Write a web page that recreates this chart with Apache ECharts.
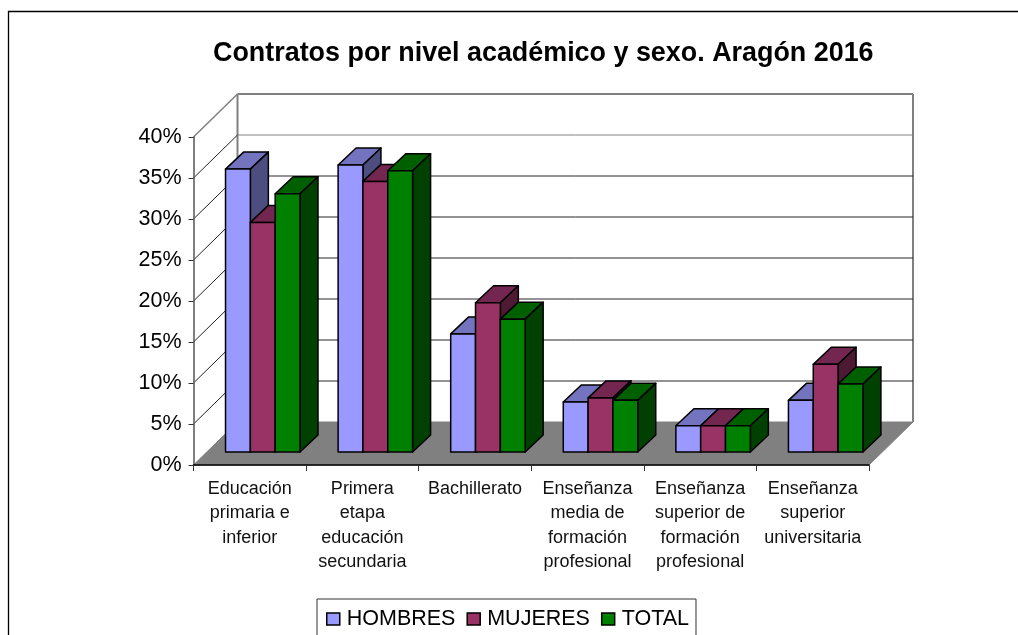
<!DOCTYPE html>
<html><head><meta charset="utf-8">
<style>html,body{margin:0;padding:0;background:#fff}#c{width:1018px;height:635px}</style>
<script src="https://cdn.jsdelivr.net/npm/echarts@6/dist/echarts.min.js"></script>
</head><body><div id="c"></div>
<script>
const categories = ["Educación\nprimaria e\ninferior","Primera\netapa\neducación\nsecundaria","Bachillerato","Enseñanza\nmedia de\nformación\nprofesional","Enseñanza\nsuperior de\nformación\nprofesional","Enseñanza\nsuperior\nuniversitaria"];
const hombres = [34.5,35.0,14.4,6.1,3.2,6.3];
const mujeres = [28.0,33.0,18.2,6.6,3.2,10.7];
const total = [31.5,34.3,16.2,6.3,3.2,8.3];
const yTicks = [0,5,10,15,20,25,30,35,40];
const seriesNames = ["HOMBRES","MUJERES","TOTAL"];
const faceColors = [["#9999FF","#7373BF","#4D4D80"],["#993366","#732650","#4D1933"],["#008000","#006000","#004000"]];
const FONT = '"Liberation Sans", Arial, sans-serif';
const WALL = {dx:44, dy:-43}, FRONT = {dx:13, dy:-13}, BAR = {dx:18, dy:-17};
const GAP = 0.169, BARW = 0.2205;

function wallItem(params, api){
  const cs = params.coordSys, v = api.value(0), y = api.coord([0,v])[1];
  const x0 = cs.x, x1 = cs.x + cs.width;
  const kids = [];
  const grey = '#808080';
  const lineCol = (v>=35) ? grey : '#262626';
  if (v === 0) {
    kids.push({type:'polygon',shape:{points:[[x0,y],[x0+WALL.dx,y+WALL.dy],[x1+WALL.dx,y+WALL.dy],[x1,y]]},style:{fill:grey,stroke:grey,lineWidth:1}});
    const yt = api.coord([0,yTicks[yTicks.length-1]])[1]+WALL.dy;
    [x0+WALL.dx,x1+WALL.dx].forEach(x=>kids.push({type:'line',shape:{x1:x,y1:y+WALL.dy,x2:x,y2:yt},style:{stroke:grey,lineWidth:2}}));
  } else {
    const top = v === yTicks[yTicks.length-1];
    kids.push({type:'line',shape:{x1:x0,y1:y,x2:x0+WALL.dx,y2:y+WALL.dy},style:{stroke:top?grey:'#222',lineWidth:top?1.5:1}});
    kids.push({type:'line',shape:{x1:x0+WALL.dx,y1:y+WALL.dy,x2:x1+WALL.dx,y2:y+WALL.dy},style:{stroke:lineCol,lineWidth:top?2:1}});
  }
  return {type:'group',children:kids};
}
function barItem(si){
  return function(params, api){
    const c = api.value(0), val = api.value(1);
    const band = api.size([1,0])[0];
    const xc = api.coord([c,0])[0];
    const yb = api.coord([c,0])[1] + FRONT.dy;
    const yt = api.coord([c,val])[1] + FRONT.dy;
    const xl = xc - band/2 + FRONT.dx + band*GAP + si*band*BARW;
    const xr = xl + band*BARW;
    const col = faceColors[si];
    const st = f => ({fill:f,stroke:'#000',lineWidth:1.5,lineJoin:'round'});
    return {type:'group',children:[
      {type:'polygon',shape:{points:[[xl,yt],[xr,yt],[xr+BAR.dx,yt+BAR.dy],[xl+BAR.dx,yt+BAR.dy]]},style:st(col[1])},
      {type:'polygon',shape:{points:[[xr,yt],[xr+BAR.dx,yt+BAR.dy],[xr+BAR.dx,yb+BAR.dy],[xr,yb]]},style:st(col[2])},
      {type:'rect',shape:{x:xl,y:yt,width:xr-xl,height:yb-yt},style:st(col[0])}
    ]};
  };
}
const values = [hombres,mujeres,total];
const chart = echarts.init(document.getElementById('c'),null,{renderer:'canvas'});
chart.setOption({
  animation:false,
  backgroundColor:'#fff',
  graphic:[{type:'rect',z:-1,silent:true,shape:{x:8.5,y:11.5,width:1100,height:800},style:{fill:'none',stroke:'#000',lineWidth:1.3}}],
  title:{text:'Contratos por nivel académico y sexo. Aragón 2016',left:213,top:40,padding:0,textStyle:{fontFamily:FONT,fontSize:26.9,fontWeight:'bold',color:'#000'}},
  legend:{
    left:317,top:599,orient:'horizontal',padding:[9,7,9,9],itemGap:11,itemWidth:13,itemHeight:12,icon:'rect',
    borderColor:'#333',borderWidth:1,backgroundColor:'#fff',
    textStyle:{fontFamily:FONT,fontSize:21.5,color:'#000',padding:[0,0,0,2]},
    data:seriesNames.map((n,i)=>({name:n,icon:'rect',itemStyle:{color:faceColors[i][0],borderColor:'#000',borderWidth:1.5}}))
  },
  grid:{left:193.5,right:149,top:137,bottom:170,containLabel:false},
  xAxis:{type:'category',data:categories,z:5,
    axisLine:{lineStyle:{color:'#000',width:1.5}},
    axisTick:{show:true,alignWithLabel:false,length:6,lineStyle:{color:'#333'}},
    axisLabel:{interval:0,margin:12,lineHeight:24.3,fontFamily:FONT,fontSize:18,color:'#111',verticalAlign:'top'},
    splitLine:{show:false}},
  yAxis:{type:'value',min:0,max:40,interval:5,z:5,
    axisLine:{show:true,lineStyle:{color:'#555',width:1.5}},
    axisTick:{show:true,length:5,lineStyle:{color:'#333'}},
    axisLabel:{formatter:'{value}%',margin:12,fontFamily:FONT,fontSize:21.5,color:'#000'},
    splitLine:{show:false}},
  series:[
    {type:'custom',name:'_walls',silent:true,clip:false,data:yTicks.map(v=>[v]),encode:{y:0},renderItem:wallItem,z:1},
    ...seriesNames.map((n,i)=>({type:'custom',name:n,clip:false,z:2+i,
      itemStyle:{color:faceColors[i][0]},
      data:values[i].map((v,c)=>[c,v]),encode:{x:0,y:1},renderItem:barItem(i)}))
  ]
});
</script></body></html>
